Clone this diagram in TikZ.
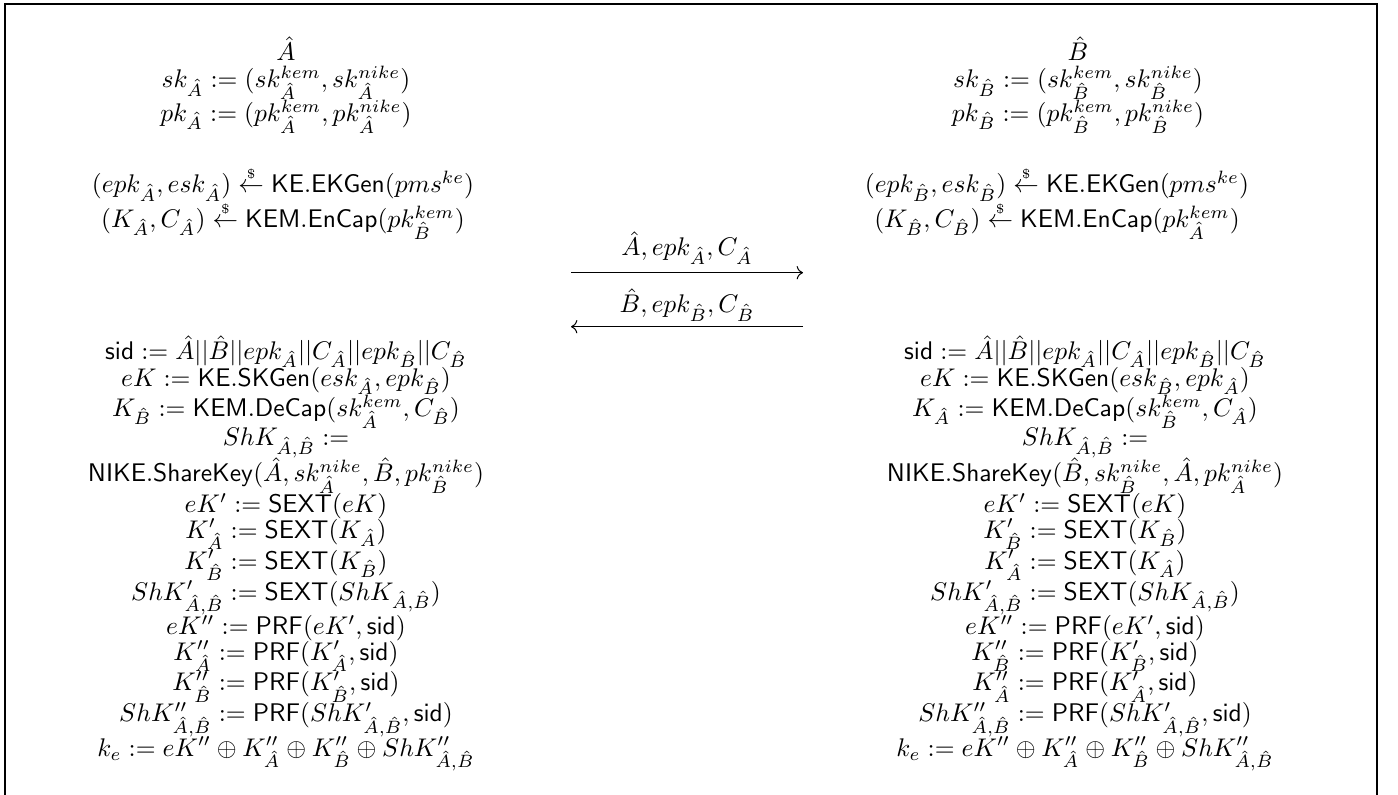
\documentclass[tikz,border=0pt]{standalone}
\usepackage{amsmath}
\usetikzlibrary{arrows.meta, positioning}
\newcommand{\samp}{\mathrel{\overset{\scriptscriptstyle\$}{\leftarrow}}}
\newcommand{\Ah}{\hat{A}}
\newcommand{\Bh}{\hat{B}}
% rows stacked box on box, no struts
\newcommand{\runlines}[1]{$\def\arraystretch{0}\begin{array}[t]{@{}c@{}}#1\end{array}$}

\begin{document}
\begin{tikzpicture}[x=0.392pt, y=-0.392pt,
    every node/.style={inner sep=0pt, anchor=base},
    msg/.style={->, line width=0.4pt}]
  \useasboundingbox (0,0) rectangle (1398,795);
  \draw[line width=0.6pt] (5,795) -- (5,4) -- (1377,4) -- (1377,795);
  % one column per party: own name \X, peer \Y
  \foreach \p/\X/\Y/\xk/\xe/\xc in {a/\Ah/\Bh/286/283/286, b/\Bh/\Ah/1078/1057/1085} {
    \node (\p name) at (\xk,60.5) {$\X$};
    \node (\p keys) at (\xk,88) {\runlines{
      sk_{\X} := (sk^{kem}_{\X}, sk^{nike}_{\X})\\
      pk_{\X} := (pk^{kem}_{\X}, pk^{nike}_{\X})}};
    \node (\p eph) at (\xe,193) {\runlines{
      (epk_{\X}, esk_{\X}) \samp \mathsf{KE.EKGen}(pms^{ke})\\
      (K_{\X}, C_{\X}) \samp \mathsf{KEM.EnCap}(pk^{kem}_{\Y})}};
    \node (\p comp) at (\xc,359.5) {\runlines{
      \mathsf{sid} := \Ah||\Bh||epk_{\Ah}||C_{\Ah}||epk_{\Bh}||C_{\Bh}\\
      eK := \mathsf{KE.SKGen}(esk_{\X}, epk_{\Y})\\
      K_{\Y} := \mathsf{KEM.DeCap}(sk^{kem}_{\X}, C_{\Y})\\
      ShK_{\Ah,\Bh} :=\\
      \mathsf{NIKE.ShareKey}(\X, sk^{nike}_{\X}, \Y, pk^{nike}_{\Y})\\
      eK' := \mathsf{SEXT}(eK)\\
      K'_{\X} := \mathsf{SEXT}(K_{\X})\\
      K'_{\Y} := \mathsf{SEXT}(K_{\Y})\\
      ShK'_{\Ah,\Bh} := \mathsf{SEXT}(ShK_{\Ah,\Bh})\\
      eK'' := \mathsf{PRF}(eK', \mathsf{sid})\\
      K''_{\X} := \mathsf{PRF}(K'_{\X}, \mathsf{sid})\\
      K''_{\Y} := \mathsf{PRF}(K'_{\Y}, \mathsf{sid})\\
      ShK''_{\Ah,\Bh} := \mathsf{PRF}(ShK'_{\Ah,\Bh}, \mathsf{sid})\\
      k_e := eK'' \oplus K''_{\Ah} \oplus K''_{\Bh} \oplus ShK''_{\Ah,\Bh}}};
  }
  % messages
  \node (msga) at (687,256) {$\Ah, epk_{\Ah}, C_{\Ah}$};
  \node (msgb) at (687,313) {$\Bh, epk_{\Bh}, C_{\Bh}$};
  \coordinate (msgal) at (571,272.7);
  \coordinate (msgar) at (803,272.7);
  \coordinate (msgbl) at (571,326.7);
  \coordinate (msgbr) at (803,326.7);
  \draw[msg] (msgal) -- (msgar);
  \draw[msg] (msgbr) -- (msgbl);
\end{tikzpicture}
\end{document}
